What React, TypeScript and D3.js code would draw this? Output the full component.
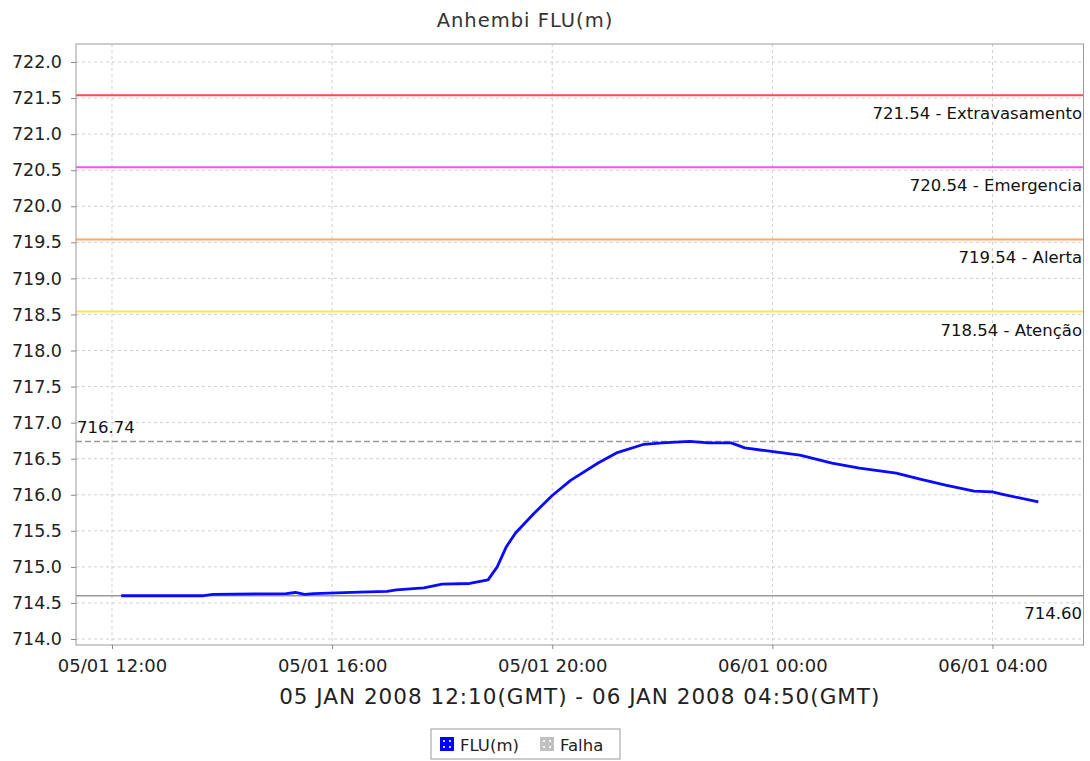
import React, { useRef, useEffect } from 'react';
import * as d3 from 'd3';

// readings of the Anhembi gauge, 05/01/2008 12:10 to 06/01/2008 04:50 (GMT)
const times = [
  '2008-01-05 12:10', '2008-01-05 13:40', '2008-01-05 13:50', '2008-01-05 15:10',
  '2008-01-05 15:20', '2008-01-05 15:30', '2008-01-05 15:40', '2008-01-05 16:30',
  '2008-01-05 17:00', '2008-01-05 17:10', '2008-01-05 17:40', '2008-01-05 18:00',
  '2008-01-05 18:30', '2008-01-05 18:50', '2008-01-05 19:00', '2008-01-05 19:10',
  '2008-01-05 19:20', '2008-01-05 19:40', '2008-01-05 20:00', '2008-01-05 20:20',
  '2008-01-05 20:50', '2008-01-05 21:10', '2008-01-05 21:40', '2008-01-05 22:00',
  '2008-01-05 22:30', '2008-01-05 22:50', '2008-01-05 23:15', '2008-01-05 23:30',
  '2008-01-06 00:05', '2008-01-06 00:30', '2008-01-06 01:05', '2008-01-06 01:35',
  '2008-01-06 02:15', '2008-01-06 02:40', '2008-01-06 03:10', '2008-01-06 03:40',
  '2008-01-06 04:00', '2008-01-06 04:10', '2008-01-06 04:50',
];
const levels = [
  714.60, 714.60, 714.62, 714.63,
  714.645, 714.62, 714.63, 714.65,
  714.66, 714.68, 714.71, 714.76,
  714.77, 714.82, 715.00, 715.28,
  715.47, 715.74, 715.99, 716.20,
  716.44, 716.58, 716.70, 716.72,
  716.74, 716.72, 716.72, 716.65,
  716.59, 716.55, 716.44, 716.37,
  716.30, 716.22, 716.13, 716.05,
  716.04, 716.01, 715.90,
];

const thresholdValues = [721.54, 720.54, 719.54, 718.54];
const thresholdNames = ['Extravasamento', 'Emergencia', 'Alerta', 'Atenção'];
const thresholdColors = ['#ff4a4a', '#ff4cff', '#ffa862', '#ffe64a'];

const yTicks = [714.0, 714.5, 715.0, 715.5, 716.0, 716.5, 717.0, 717.5, 718.0,
  718.5, 719.0, 719.5, 720.0, 720.5, 721.0, 721.5, 722.0];
const xDomain = ['2008-01-05 11:20:45', '2008-01-06 05:39:15'];
const yDomain = [713.917, 722.25];

const legendLabels = ['FLU(m)', 'Falha'];
const legendColors = ['#0000ff', '#c0c0c0'];

const title = 'Anhembi FLU(m)';
const xLabel = '05 JAN 2008 12:10(GMT) - 06 JAN 2008 04:50(GMT)';

const W = 1090;
const H = 761;
const plot = { left: 76, right: 1083.5, top: 44, bottom: 645 };
const FONT = "'DejaVu Sans', sans-serif";

const App: React.FC = () => {
  const svgRef = useRef<SVGSVGElement | null>(null);

  useEffect(() => {
    if (!svgRef.current) return;
    const svg = d3.select(svgRef.current);
    svg.selectAll('*').remove();

    const parse = d3.utcParse('%Y-%m-%d %H:%M');
    const parseS = d3.utcParse('%Y-%m-%d %H:%M:%S');
    const data = times.map((t, i) => ({ t: parse(t) as Date, v: levels[i] }));

    const x = d3.scaleUtc()
      .domain(xDomain.map(d => parseS(d) as Date))
      .range([plot.left, plot.right]);
    const y = d3.scaleLinear().domain(yDomain).range([plot.bottom, plot.top]);

    svg.append('rect').attr('width', W).attr('height', H).attr('fill', '#fff');

    // title
    svg.append('text')
      .attr('x', 525).attr('y', 27)
      .attr('text-anchor', 'middle')
      .style('font-family', FONT).style('font-size', '19.5px')
      .style('letter-spacing', '1px')
      .attr('fill', '#333')
      .text(title);

    const clipId = 'plot-clip';
    svg.append('clipPath').attr('id', clipId)
      .append('rect')
      .attr('x', plot.left).attr('y', plot.top)
      .attr('width', plot.right - plot.left).attr('height', plot.bottom - plot.top);

    const xTicks = x.ticks(d3.utcHour.every(4) as d3.TimeInterval);

    // grid
    const grid = svg.append('g');
    grid.selectAll('.hg').data(yTicks).enter().append('line')
      .attr('x1', plot.left).attr('x2', plot.right)
      .attr('y1', d => y(d)).attr('y2', d => y(d))
      .attr('stroke', '#cfcfcf').attr('stroke-dasharray', '3,3');
    grid.selectAll('.vg').data(xTicks).enter().append('line')
      .attr('x1', d => x(d)).attr('x2', d => x(d))
      .attr('y1', plot.top).attr('y2', plot.bottom)
      .attr('stroke', '#cfcfcf').attr('stroke-dasharray', '3,3');

    const g = svg.append('g').attr('clip-path', `url(#${clipId})`);

    // threshold lines
    thresholdValues.forEach((v, i) => {
      g.append('line')
        .attr('x1', plot.left).attr('x2', plot.right)
        .attr('y1', y(v)).attr('y2', y(v))
        .attr('stroke', thresholdColors[i]).attr('stroke-width', 2);
      svg.append('text')
        .attr('x', 1082).attr('y', y(v) + 24)
        .attr('text-anchor', 'end')
        .style('font-family', FONT).style('font-size', '16.5px')
        .attr('fill', '#111')
        .text(`${v.toFixed(2)} - ${thresholdNames[i]}`);
    });

    // min / max markers
    const maxV = d3.max(levels) as number;
    const minV = d3.min(levels) as number;
    g.append('line')
      .attr('x1', plot.left).attr('x2', plot.right)
      .attr('y1', y(maxV)).attr('y2', y(maxV))
      .attr('stroke', '#9a9a9a').attr('stroke-width', 1.5)
      .attr('stroke-dasharray', '6,3');
    svg.append('text')
      .attr('x', 77).attr('y', y(maxV) - 8)
      .style('font-family', FONT).style('font-size', '16.5px')
      .attr('fill', '#111')
      .text(maxV.toFixed(2));
    g.append('line')
      .attr('x1', plot.left).attr('x2', plot.right)
      .attr('y1', y(minV)).attr('y2', y(minV))
      .attr('stroke', '#9a9a9a').attr('stroke-width', 1.5);
    svg.append('text')
      .attr('x', 1082).attr('y', y(minV) + 23.5)
      .attr('text-anchor', 'end')
      .style('font-family', FONT).style('font-size', '16.5px')
      .attr('fill', '#111')
      .text(minV.toFixed(2));

    // series
    const line = d3.line<{ t: Date; v: number }>()
      .x(d => x(d.t))
      .y(d => y(d.v));
    g.append('path')
      .datum(data)
      .attr('d', line)
      .attr('fill', 'none')
      .attr('stroke', '#0a0aff')
      .attr('stroke-width', 2.8)
      .attr('stroke-linejoin', 'round');

    // outline
    svg.append('rect')
      .attr('x', plot.left).attr('y', plot.top)
      .attr('width', plot.right - plot.left).attr('height', plot.bottom - plot.top)
      .attr('fill', 'none').attr('stroke', '#9a9a9a');

    // y axis
    const yAxis = d3.axisLeft(y)
      .tickValues(yTicks)
      .tickSize(5)
      .tickPadding(9)
      .tickFormat(d => (d as number).toFixed(1));
    const yG = svg.append('g')
      .attr('transform', `translate(${plot.left},0)`)
      .call(yAxis);
    yG.select('.domain').remove();
    yG.selectAll('line').attr('stroke', '#888');
    yG.selectAll('text')
      .style('font-family', FONT).style('font-size', '17.5px')
      .attr('fill', '#222');

    // x axis
    const xAxis = d3.axisBottom(x)
      .tickValues(xTicks)
      .tickSize(4)
      .tickPadding(10)
      .tickFormat(d => d3.utcFormat('%d/%m %H:%M')(d as Date));
    const xG = svg.append('g')
      .attr('transform', `translate(0,${plot.bottom})`)
      .call(xAxis);
    xG.select('.domain').remove();
    xG.selectAll('line').attr('stroke', '#888');
    xG.selectAll('text')
      .style('font-family', FONT).style('font-size', '18px')
      .attr('fill', '#222');

    svg.append('text')
      .attr('x', (plot.left + plot.right) / 2).attr('y', 704)
      .attr('text-anchor', 'middle')
      .style('font-family', FONT).style('font-size', '21.5px')
      .style('letter-spacing', '1px')
      .attr('fill', '#222')
      .text(xLabel);

    // legend
    const lg = svg.append('g');
    lg.append('rect')
      .attr('x', 431).attr('y', 729).attr('width', 189).attr('height', 30)
      .attr('fill', '#fff').attr('stroke', '#999');
    const itemX = [440, 540];
    legendLabels.forEach((label, i) => {
      const sx = itemX[i];
      lg.append('rect')
        .attr('x', sx).attr('y', 737).attr('width', 14).attr('height', 14)
        .attr('fill', legendColors[i]);
      [[4, 4], [10, 4], [4, 10], [10, 10]].forEach(([dx, dy]) => {
        lg.append('rect')
          .attr('x', sx + dx - 1).attr('y', 737 + dy - 1)
          .attr('width', 2).attr('height', 2)
          .attr('fill', '#fff').attr('opacity', 0.8);
      });
      lg.append('text')
        .attr('x', sx + 20).attr('y', 751)
        .style('font-family', FONT).style('font-size', '16.5px')
        .attr('fill', '#222')
        .text(label);
    });
  }, []);

  return (
    <svg
      ref={svgRef}
      width={W}
      height={H}
      style={{ position: 'absolute', left: 0, top: 0 }}
    />
  );
};

export default App;
